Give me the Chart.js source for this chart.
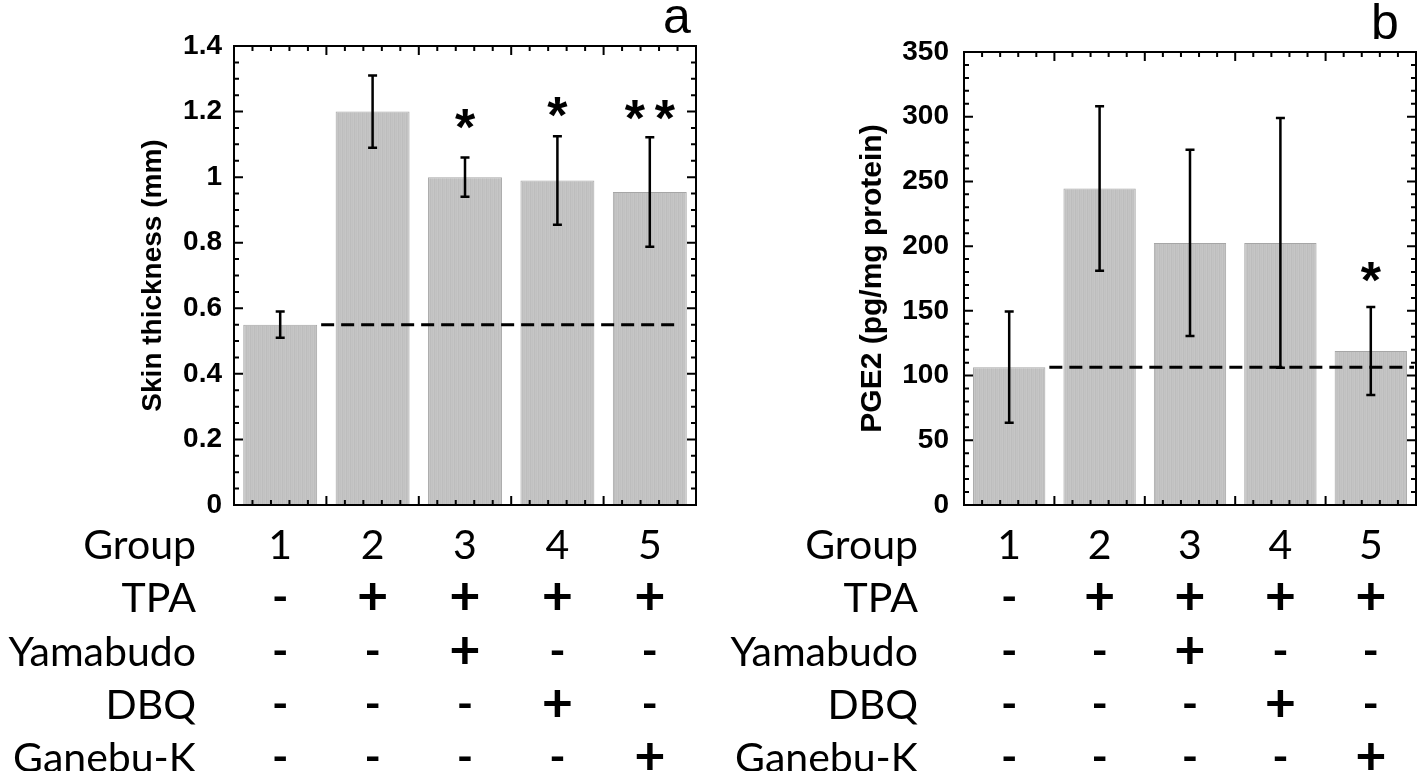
<!DOCTYPE html>
<html>
<head>
<meta charset="utf-8">
<script src="https://cdn.jsdelivr.net/npm/chart.js@4.4.1/dist/chart.umd.min.js"></script>
<style>
html, body { margin: 0; padding: 0; background: #fff; }
body { width: 1418px; height: 771px; position: relative; overflow: hidden; }
canvas { position: absolute; top: 0; }
#chartA { left: 0; }
#chartB { left: 709px; }
</style>
</head>
<body>
<canvas id="chartA" width="709" height="771"></canvas>
<canvas id="chartB" width="709" height="771"></canvas>
<script>
// Groups and bar values (mean +/- error)
const groups = ['1', '2', '3', '4', '5'];
const skinMean = [0.55, 1.20, 1.00, 0.99, 0.955];
const skinErr = [0.04, 0.11, 0.06, 0.135, 0.167];
const skinStars = ['', '', '*', '*', '**'];
const skinStarY = [null, null, 1.19, 1.227, 1.217];

const pgeMean = [106.5, 244.5, 202.5, 202.5, 119];
const pgeErr = [43, 63.5, 72, 96.5, 34];
const pgeStars = ['', '', '', '', '*'];
const pgeStarY = [null, null, null, null, 183];

// Treatment table under each panel
const rowNames = ['Group', 'TPA', 'Yamabudo', 'DBQ', 'Ganebu-K'];
const tpa = ['-', '+', '+', '+', '+'];
const yamabudo = ['-', '-', '+', '-', '-'];
const dbq = ['-', '-', '-', '+', '-'];
const ganebu = ['-', '-', '-', '-', '+'];
const tableRows = [groups, tpa, yamabudo, dbq, ganebu];

Chart.defaults.font.family = '"Liberation Sans", Arial, sans-serif';
Chart.defaults.color = '#000';

function stripes(id) {
    const c = document.createElement('canvas');
    c.width = 4; c.height = 1;
    const g = c.getContext('2d');
    ['#c1c1c1', '#c6c6c6', '#bdbdbd', '#c4c4c4'].forEach((col, i) => {
        g.fillStyle = col;
        g.fillRect(i, 0, 1, 1);
    });
    return document.getElementById(id).getContext('2d').createPattern(c, 'repeat');
}

const figurePlugin = {
    id: 'figure',
    afterDatasetsDraw(chart, args, opts) {
        const ctx = chart.ctx;
        const y = chart.scales.y;
        const area = chart.chartArea;
        const bars = chart.getDatasetMeta(0).data;
        const means = chart.data.datasets[0].data;
        ctx.save();
        ctx.strokeStyle = '#000';

        // dashed control level
        const base = y.getPixelForValue(means[0]);
        const first = bars[0], last = bars[bars.length - 1];
        ctx.lineWidth = 3;
        ctx.setLineDash([13, 7]);
        ctx.beginPath();
        ctx.moveTo(first.x + first.width / 2 + 4, base);
        ctx.lineTo(opts.dashToEdge ? area.right - 2 : last.x + last.width / 2 - 12, base);
        ctx.stroke();
        ctx.setLineDash([]);

        // error bars
        ctx.lineWidth = 2.5;
        bars.forEach((bar, i) => {
            const top = y.getPixelForValue(means[i] + opts.err[i]);
            const bot = y.getPixelForValue(means[i] - opts.err[i]);
            ctx.beginPath();
            ctx.moveTo(bar.x, top); ctx.lineTo(bar.x, bot);
            ctx.moveTo(bar.x - 4.5, top); ctx.lineTo(bar.x + 4.5, top);
            ctx.moveTo(bar.x - 4.5, bot); ctx.lineTo(bar.x + 4.5, bot);
            ctx.stroke();
        });
        ctx.restore();
    },
    afterDraw(chart, args, opts) {
        const ctx = chart.ctx;
        const x = chart.scales.x, y = chart.scales.y;
        const a = chart.chartArea;
        ctx.save();
        ctx.strokeStyle = '#000';
        ctx.fillStyle = '#000';

        // frame
        ctx.lineWidth = 2;
        ctx.strokeRect(a.left, a.top, a.right - a.left, a.bottom - a.top);

        // inward ticks, y axis (left + right)
        const nMinor = Math.round((y.max - y.min) / opts.minorStep);
        ctx.beginPath();
        for (let k = 1; k < nMinor; k++) {
            const v = y.min + k * opts.minorStep;
            const py = y.getPixelForValue(v);
            const major = Math.abs(v / opts.majorStep - Math.round(v / opts.majorStep)) < 1e-6;
            const len = major ? 9 : 5;
            ctx.moveTo(a.left, py); ctx.lineTo(a.left + len, py);
            ctx.moveTo(a.right, py); ctx.lineTo(a.right - len, py);
        }
        // inward ticks, x axis (bottom + top)
        const catW = (a.right - a.left) / groups.length;
        for (let k = 1; k < groups.length * 5; k++) {
            const px = a.left + k * catW / 5;
            const len = k % 5 === 0 ? 9 : 5;
            ctx.moveTo(px, a.bottom); ctx.lineTo(px, a.bottom - len);
            ctx.moveTo(px, a.top); ctx.lineTo(px, a.top + len);
        }
        ctx.stroke();

        // significance stars
        ctx.font = 'bold 52px "Liberation Sans", Arial';
        ctx.textAlign = 'center';
        ctx.textBaseline = 'alphabetic';
        opts.stars.forEach((s, i) => {
            if (!s) return;
            const cx = x.getPixelForValue(i);
            const cy = y.getPixelForValue(opts.starY[i]) + 30;
            const chars = s.split('');
            chars.forEach((c, j) => {
                ctx.fillText(c, cx + (j - (chars.length - 1) / 2) * 30, cy);
            });
        });

        // panel letter
        ctx.font = '50px "Liberation Sans", Arial';
        ctx.fillText(opts.panel, opts.panelX, opts.panelY);

        // treatment table
        const textFont = '41px Lato, "Open Sans", sans-serif';
        const plusFont = 'bold 54px Lato, "Open Sans", sans-serif';
        const minusFont = 'bold 44px Lato, "Open Sans", sans-serif';
        tableRows.forEach((row, r) => {
            const by = 559 + r * 53.3;
            ctx.font = textFont;
            ctx.textAlign = 'right';
            ctx.fillText(rowNames[r], opts.tableRight, by);
            ctx.textAlign = 'center';
            row.forEach((t, i) => {
                ctx.font = t === '+' ? plusFont : t === '-' ? minusFont : textFont;
                ctx.fillText(t, x.getPixelForValue(i), t === '+' ? by + 3 : by);
            });
        });
        ctx.restore();
    }
};

function makeChart(id, cfg) {
    return new Chart(document.getElementById(id), {
        type: 'bar',
        data: {
            labels: groups,
            datasets: [{
                data: cfg.means,
                backgroundColor: stripes(id),
                borderColor: '#a6a6a6',
                borderWidth: 1,
                barPercentage: 0.8,
                categoryPercentage: 1
            }]
        },
        options: {
            responsive: false,
            animation: false,
            devicePixelRatio: 1,
            layout: { padding: cfg.padding },
            plugins: {
                legend: { display: false },
                tooltip: { enabled: false },
                figure: cfg.figure
            },
            scales: {
                x: {
                    grid: { display: false, drawTicks: false },
                    border: { display: false },
                    ticks: { display: false },
                    afterFit: s => { s.height = 0; }
                },
                y: {
                    min: cfg.min,
                    max: cfg.max,
                    ticks: {
                        stepSize: cfg.step,
                        padding: cfg.tickPad,
                        color: '#000',
                        font: { size: 28, weight: 'bold' },
                        callback: v => String(+v.toFixed(2))
                    },
                    grid: { display: false, drawTicks: false },
                    border: { display: false },
                    title: {
                        display: true,
                        text: cfg.title,
                        color: '#000',
                        font: { size: cfg.titleSize, weight: 'bold' },
                        padding: { top: 4, bottom: 0 }
                    },
                    afterFit: s => { s.width = cfg.yWidth; }
                }
            }
        },
        plugins: [figurePlugin]
    });
}

makeChart('chartA', {
    means: skinMean,
    min: 0, max: 1.4, step: 0.2,
    title: 'Skin thickness (mm)',
    titleSize: 28,
    padding: { left: 132, right: 13, top: 46, bottom: 266 },
    yWidth: 102,
    tickPad: 12,
    figure: {
        err: skinErr, stars: skinStars, starY: skinStarY,
        majorStep: 0.2, minorStep: 0.05,
        dashToEdge: false,
        panel: 'a', panelX: 677, panelY: 33,
        tableRight: 196
    }
});

makeChart('chartB', {
    means: pgeMean,
    min: 0, max: 350, step: 50,
    title: 'PGE2 (pg/mg protein)',
    titleSize: 30,
    padding: { left: 142, right: 2, top: 52, bottom: 266 },
    yWidth: 113,
    tickPad: 15,
    figure: {
        err: pgeErr, stars: pgeStars, starY: pgeStarY,
        majorStep: 50, minorStep: 10,
        dashToEdge: true,
        panel: 'b', panelX: 676, panelY: 39,
        tableRight: 209
    }
});
</script>
</body>
</html>
